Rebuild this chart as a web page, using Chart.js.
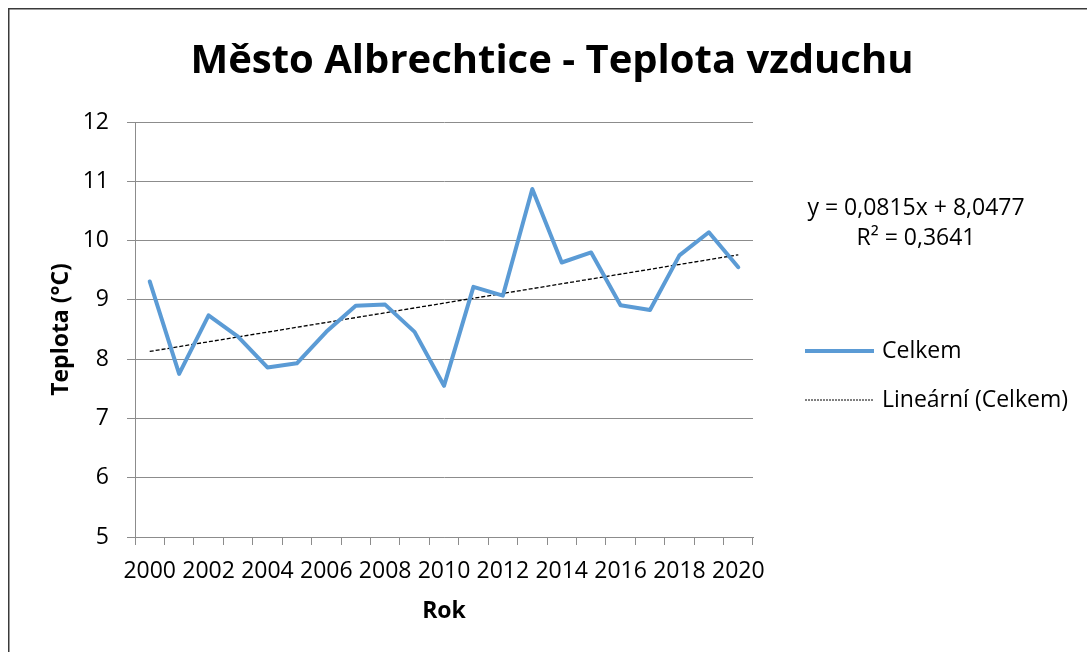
<!DOCTYPE html>
<html>
<head>
<meta charset="utf-8">
<script src="https://cdn.jsdelivr.net/npm/chart.js@4/dist/chart.umd.min.js"></script>
<style>
  html, body { margin: 0; padding: 0; background: #fff; }
  #wrap { width: 1087px; height: 652px; position: relative; }
</style>
</head>
<body>
<div id="wrap"><canvas id="c" width="1087" height="652"></canvas></div>
<script>
// ---- data ----
const years = ['2000','2001','2002','2003','2004','2005','2006','2007','2008','2009','2010',
               '2011','2012','2013','2014','2015','2016','2017','2018','2019','2020'];
const celkem = [9.31, 7.75, 8.74, 8.38, 7.86, 7.93, 8.46, 8.90, 8.92, 8.46, 7.55,
                9.22, 9.07, 10.87, 9.63, 9.80, 8.91, 8.83, 9.75, 10.14, 9.55];
const trendYears = ['2000', '2020'];
const trendValues = [8.13, 9.76];
const yTicks = [5, 6, 7, 8, 9, 10, 11, 12];
const titleText = 'Město Albrechtice - Teplota vzduchu';
const xTitle = 'Rok';
const yTitle = 'Teplota (°C)';
const seriesName = 'Celkem';
const trendName = 'Lineární (Celkem)';
const equationLines = ['y = 0,0815x + 8,0477', 'R² = 0,3641'];

const FONT = '"Open Sans", "Noto Sans", sans-serif';
Chart.defaults.font.family = FONT;
Chart.defaults.color = '#000';

const framePlugin = {
  id: 'frame',
  beforeDraw(chart) {
    const ctx = chart.ctx;
    ctx.save();
    ctx.fillStyle = '#fff';
    ctx.fillRect(0, 0, chart.width, chart.height);
    ctx.strokeStyle = '#3a3a3a';
    ctx.lineWidth = 1.5;
    ctx.beginPath();
    ctx.moveTo(8.75, chart.height);
    ctx.lineTo(8.75, 8.75);
    ctx.lineTo(chart.width, 8.75);
    ctx.stroke();
    ctx.restore();
  }
};

const titlePlugin = {
  id: 'bigTitle',
  afterDraw(chart) {
    const ctx = chart.ctx;
    ctx.save();
    ctx.font = 'bold 40px ' + FONT;
    ctx.fillStyle = '#000';
    ctx.textAlign = 'center';
    ctx.textBaseline = 'alphabetic';
    ctx.fillText(titleText, 552, 73);
    ctx.restore();
  }
};

const sideLegendPlugin = {
  id: 'sideLegend',
  afterDraw(chart) {
    const ctx = chart.ctx;
    const area = chart.chartArea;
    ctx.save();
    ctx.font = '23px ' + FONT;
    ctx.fillStyle = '#000';
    ctx.textBaseline = 'middle';
    // equation
    ctx.textAlign = 'center';
    const eqX = area.right + 163;
    ctx.fillText(equationLines[0], eqX, area.top + 86);
    ctx.fillText(equationLines[1], eqX, area.top + 116);
    // legend
    ctx.textAlign = 'left';
    const ds = chart.data.datasets;
    const rows = [area.top + 229, area.top + 278];
    ds.forEach((d, i) => {
      const y = rows[i];
      ctx.save();
      ctx.strokeStyle = d.borderColor;
      ctx.lineWidth = i === 0 ? d.borderWidth : 1;
      ctx.setLineDash(i === 0 ? [] : [2, 1]);
      ctx.lineCap = 'butt';
      ctx.beginPath();
      ctx.moveTo(area.right + 52, y);
      ctx.lineTo(area.right + 121, y);
      ctx.stroke();
      ctx.restore();
      ctx.fillText(d.label, area.right + 129, y);
    });
    ctx.restore();
  }
};

function build() {
  new Chart(document.getElementById('c'), {
    type: 'line',
    data: {
      labels: years,
      datasets: [
        {
          label: seriesName,
          data: celkem,
          borderColor: '#5B9BD5',
          backgroundColor: '#5B9BD5',
          borderWidth: 4,
          tension: 0,
          pointRadius: 0,
          borderJoinStyle: 'round',
          borderCapStyle: 'round',
          fill: false
        },
        {
          label: trendName,
          data: trendYears.map((y, i) => ({ x: y, y: trendValues[i] })),
          borderColor: '#000',
          borderWidth: 1.3,
          borderDash: [4, 2],
          pointRadius: 0,
          tension: 0,
          fill: false
        }
      ]
    },
    options: {
      responsive: false,
      animation: false,
      devicePixelRatio: 1,
      layout: { padding: { left: 0, right: 334, top: 122, bottom: 0 } },
      plugins: {
        legend: { display: false },
        tooltip: { enabled: false },
        title: { display: false }
      },
      scales: {
        x: {
          type: 'category',
          offset: true,
          grid: {
            display: true,
            offset: true,
            drawOnChartArea: false,
            drawTicks: true,
            tickLength: 8,
            color: '#8c8c8c',
            lineWidth: 1
          },
          border: { display: true, color: '#8c8c8c', width: 1 },
          ticks: {
            autoSkip: false,
            maxRotation: 0,
            minRotation: 0,
            padding: 13,
            font: { size: 23 },
            color: '#000',
            callback: function (v, i) { return i % 2 === 0 ? this.getLabelForValue(v) : ''; }
          },
          title: {
            display: true,
            text: xTitle,
            font: { size: 23, weight: 'bold' },
            color: '#000',
            padding: { top: 0, bottom: 27 }
          },
          afterFit(scale) { scale.height = 115; }
        },
        y: {
          min: 5,
          max: 12,
          afterBuildTicks(scale) { scale.ticks = yTicks.map(v => ({ value: v })); },
          grid: {
            color: '#8c8c8c',
            lineWidth: 1,
            drawTicks: true,
            tickLength: 8
          },
          border: { display: true, color: '#8c8c8c', width: 1 },
          ticks: {
            padding: 18,
            font: { size: 23 },
            color: '#000'
          },
          title: {
            display: true,
            text: yTitle,
            font: { size: 23, weight: 'bold' },
            color: '#000',
            padding: { top: 48, bottom: 0 }
          },
          afterFit(scale) { scale.width = 135; }
        }
      }
    },
    plugins: [framePlugin, titlePlugin, sideLegendPlugin]
  });
}

if (document.fonts && document.fonts.load) {
  Promise.all([
    document.fonts.load('23px "Open Sans"'),
    document.fonts.load('bold 40px "Open Sans"')
  ]).then(build, build);
} else {
  build();
}
</script>
</body>
</html>
